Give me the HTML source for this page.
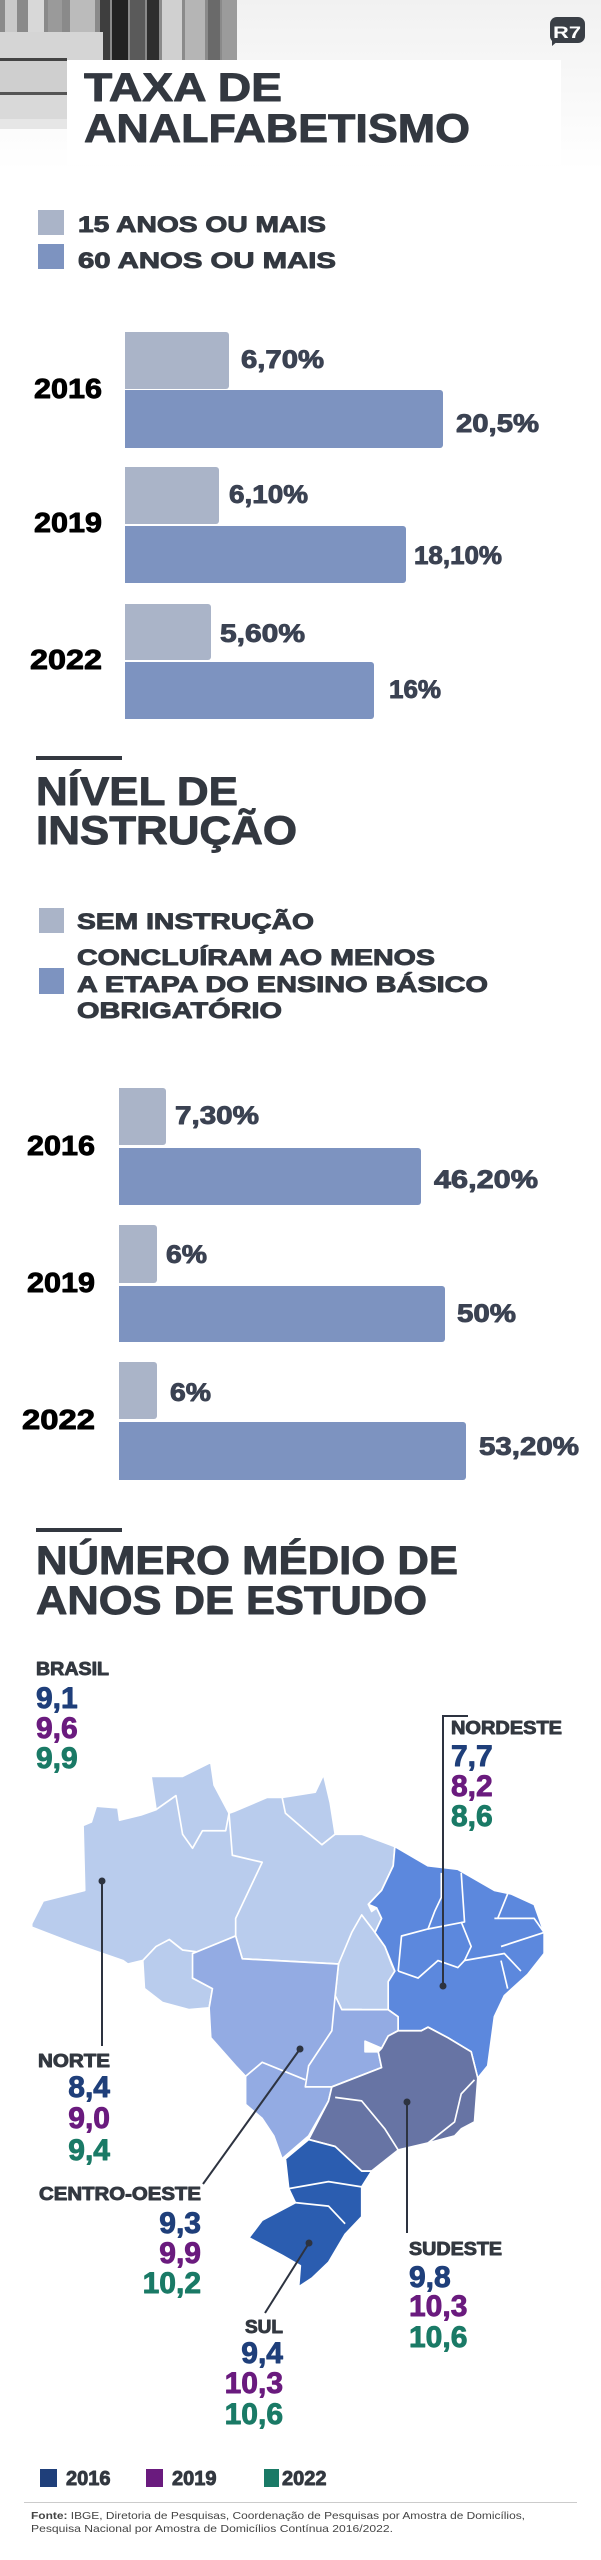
<!DOCTYPE html>
<html><head><meta charset="utf-8">
<style>
html,body{margin:0;padding:0;background:#fff;}
svg{display:block;}
text{font-family:"Liberation Sans",Arial,sans-serif;font-weight:bold;}
.hv text{stroke-width:0.9;stroke-linejoin:round;}
</style></head>
<body>
<svg width="601" height="2560" viewBox="0 0 601 2560" xmlns="http://www.w3.org/2000/svg">
<defs>
<linearGradient id="bg" x1="0" y1="0" x2="0" y2="1">
<stop offset="0" stop-color="#f1f1f1"/><stop offset="1" stop-color="#ffffff"/>
</linearGradient>
</defs>
<rect x="0" y="0" width="601" height="2560" fill="#fff"/>
<rect x="0" y="0" width="601" height="170" fill="url(#bg)"/>
<g>
<rect x="0" y="0" width="237" height="60" fill="#8a8a8a"/>
<rect x="5" y="0" width="12" height="35" fill="#c9c9c9"/>
<rect x="28" y="0" width="16" height="35" fill="#d8d8d8"/>
<rect x="48" y="0" width="14" height="35" fill="#9a9a9a"/>
<rect x="70" y="0" width="25" height="35" fill="#bbb"/>
<rect x="100" y="0" width="10" height="60" fill="#3e3e3e"/>
<rect x="112" y="0" width="16" height="60" fill="#222"/>
<rect x="130" y="0" width="15" height="60" fill="#5a5a5a"/>
<rect x="147" y="0" width="12" height="60" fill="#2e2e2e"/>
<rect x="162" y="0" width="20" height="60" fill="#d0d0d0"/>
<rect x="185" y="0" width="20" height="60" fill="#b5b5b5"/>
<rect x="208" y="0" width="12" height="60" fill="#6a6a6a"/>
<rect x="222" y="0" width="15" height="60" fill="#9b9b9b"/>
<rect x="0" y="32" width="103" height="28" fill="#d5d5d5"/>
<rect x="0" y="58" width="67" height="3" fill="#444"/>
<rect x="0" y="61" width="67" height="32" fill="#cfcfcf"/>
<rect x="0" y="92" width="67" height="3" fill="#555"/>
<rect x="0" y="95" width="67" height="24" fill="#d9d9d9"/>
<rect x="0" y="119" width="67" height="10" fill="#e6e6e6"/>
</g>
<rect x="67" y="60" width="494" height="105" fill="#fff"/>
<rect x="550" y="17" width="35" height="26" rx="7" fill="#3a3f46"/>
<polygon points="552,38 552,46 559,40" fill="#3a3f46"/>
<text x="553" y="38" font-size="17" fill="#fff" textLength="28" lengthAdjust="spacingAndGlyphs">R7</text>

<g fill="#333840" stroke="#333840" class="hv">
<text x="84" y="101" font-size="40" textLength="198" lengthAdjust="spacingAndGlyphs">TAXA DE</text>
<text x="84" y="142" font-size="40" textLength="386" lengthAdjust="spacingAndGlyphs">ANALFABETISMO</text>
</g>

<rect x="38" y="210" width="26" height="25" fill="#aab4c8"/>
<rect x="38" y="244" width="26" height="25" fill="#7d93c0"/>
<g fill="#333840" stroke="#333840" font-size="22" class="hv">
<text x="78" y="232" textLength="248" lengthAdjust="spacingAndGlyphs">15 ANOS OU MAIS</text>
<text x="78" y="268" textLength="258" lengthAdjust="spacingAndGlyphs">60 ANOS OU MAIS</text>
</g>

<g>
<rect x="115" y="332" width="114" height="57" rx="3" fill="#aab4c8"/>
<rect x="115" y="390" width="328" height="58" rx="3" fill="#7d93c0"/>
<rect x="115" y="467" width="104" height="57" rx="3" fill="#aab4c8"/>
<rect x="115" y="526" width="291" height="57" rx="3" fill="#7d93c0"/>
<rect x="115" y="604" width="96" height="56" rx="3" fill="#aab4c8"/>
<rect x="115" y="662" width="259" height="57" rx="3" fill="#7d93c0"/>
<rect x="115" y="330" width="10" height="392" fill="#fff"/>
</g>
<g fill="#000" stroke="#000" font-size="28" class="hv">
<text x="34" y="398" textLength="68" lengthAdjust="spacingAndGlyphs">2016</text>
<text x="34" y="532" textLength="68" lengthAdjust="spacingAndGlyphs">2019</text>
<text x="30" y="669" textLength="72" lengthAdjust="spacingAndGlyphs">2022</text>
</g>
<g fill="#3b4252" stroke="#3b4252" font-size="25" class="hv">
<text x="241" y="368" textLength="83" lengthAdjust="spacingAndGlyphs">6,70%</text>
<text x="456" y="432" textLength="83" lengthAdjust="spacingAndGlyphs">20,5%</text>
<text x="229" y="503" textLength="79" lengthAdjust="spacingAndGlyphs">6,10%</text>
<text x="414" y="564" textLength="88" lengthAdjust="spacingAndGlyphs">18,10%</text>
<text x="220" y="642" textLength="85" lengthAdjust="spacingAndGlyphs">5,60%</text>
<text x="389" y="698" textLength="52" lengthAdjust="spacingAndGlyphs">16%</text>
</g>

<rect x="36" y="756" width="86" height="4" fill="#333840"/>
<g fill="#333840" stroke="#333840" class="hv">
<text x="36" y="805" font-size="40" textLength="202" lengthAdjust="spacingAndGlyphs">NÍVEL DE</text>
<text x="36" y="844" font-size="40" textLength="261" lengthAdjust="spacingAndGlyphs">INSTRUÇÃO</text>
</g>
<rect x="39" y="908" width="25" height="25" fill="#aab4c8"/>
<rect x="39" y="968" width="25" height="26" fill="#7d93c0"/>
<g fill="#333840" stroke="#333840" font-size="22" class="hv">
<text x="77" y="929" textLength="237" lengthAdjust="spacingAndGlyphs">SEM INSTRUÇÃO</text>
<text x="77" y="965" textLength="358" lengthAdjust="spacingAndGlyphs">CONCLUÍRAM AO MENOS</text>
<text x="77" y="992" textLength="411" lengthAdjust="spacingAndGlyphs">A ETAPA DO ENSINO BÁSICO</text>
<text x="77" y="1018" textLength="205" lengthAdjust="spacingAndGlyphs">OBRIGATÓRIO</text>
</g>
<g>
<rect x="110" y="1088" width="56" height="57" rx="3" fill="#aab4c8"/>
<rect x="110" y="1148" width="311" height="57" rx="3" fill="#7d93c0"/>
<rect x="110" y="1225" width="47" height="58" rx="3" fill="#aab4c8"/>
<rect x="110" y="1286" width="335" height="56" rx="3" fill="#7d93c0"/>
<rect x="110" y="1362" width="47" height="57" rx="3" fill="#aab4c8"/>
<rect x="110" y="1422" width="356" height="58" rx="3" fill="#7d93c0"/>
<rect x="110" y="1086" width="9" height="396" fill="#fff"/>
</g>
<g fill="#000" stroke="#000" font-size="28" class="hv">
<text x="27" y="1155" textLength="68" lengthAdjust="spacingAndGlyphs">2016</text>
<text x="27" y="1292" textLength="68" lengthAdjust="spacingAndGlyphs">2019</text>
<text x="22" y="1429" textLength="73" lengthAdjust="spacingAndGlyphs">2022</text>
</g>
<g fill="#3b4252" stroke="#3b4252" font-size="25" class="hv">
<text x="175" y="1124" textLength="84" lengthAdjust="spacingAndGlyphs">7,30%</text>
<text x="434" y="1188" textLength="104" lengthAdjust="spacingAndGlyphs">46,20%</text>
<text x="166" y="1263" textLength="41" lengthAdjust="spacingAndGlyphs">6%</text>
<text x="457" y="1322" textLength="59" lengthAdjust="spacingAndGlyphs">50%</text>
<text x="170" y="1401" textLength="41" lengthAdjust="spacingAndGlyphs">6%</text>
<text x="479" y="1455" textLength="100" lengthAdjust="spacingAndGlyphs">53,20%</text>
</g>

<rect x="36" y="1528" width="86" height="4" fill="#333840"/>
<g fill="#333840" stroke="#333840" class="hv">
<text x="36" y="1574" font-size="40" textLength="422" lengthAdjust="spacingAndGlyphs">NÚMERO MÉDIO DE</text>
<text x="36" y="1614" font-size="40" textLength="391" lengthAdjust="spacingAndGlyphs">ANOS DE ESTUDO</text>
</g>

<g transform="translate(30,1750) scale(0.3317,0.3509)" stroke="#fff" stroke-width="5" stroke-linejoin="round">
<polygon fill="#b9cced" points="5,495 40,430 165,400 160,215 185,205 200,160 265,165 270,200 335,185 380,170 365,75 460,75 545,35 555,100 600,180 615,175 715,135 760,135 860,120 885,70 905,150 920,240 1000,240 1100,275 1095,330 1060,400 1020,440 1030,460 1045,450 1060,480 1040,520 1070,560 1090,610 1100,630 1080,660 1080,740 1040,750 1000,740 940,740 920,700 930,610 640,595 620,530 500,580 490,650 550,680 540,735 480,740 400,720 345,680 340,600 295,610 280,600 5,510"/>
<polygon fill="#93abe3" points="490,580 620,530 640,595 930,610 920,700 940,740 1000,740 1080,740 1110,760 1110,800 1080,815 1060,850 1010,830 1010,860 1050,860 1060,905 910,960 900,1000 840,1100 760,1165 735,1100 700,1050 650,1010 650,930 620,900 545,820 540,735 550,680 490,650"/>
<polygon fill="#5c88dd" points="1100,275 1200,330 1290,340 1400,400 1450,410 1520,440 1550,520 1550,580 1500,640 1430,700 1400,760 1380,900 1350,935 1330,860 1260,820 1200,790 1180,800 1110,800 1110,760 1080,740 1080,660 1100,630 1070,560 1040,520 1060,480 1045,450 1020,440 1060,400 1095,330"/>
<polygon fill="#6774a4" points="1110,800 1180,800 1200,790 1260,820 1330,860 1350,935 1340,1060 1300,1080 1280,1100 1200,1120 1110,1140 1030,1200 1000,1200 920,1130 840,1110 900,1000 910,960 1060,905 1050,860 1060,850 1080,815"/>
<polygon fill="#2b5db0" points="840,1110 920,1130 1000,1200 1030,1200 1000,1245 1000,1330 950,1380 900,1460 850,1505 810,1530 815,1470 760,1440 660,1390 700,1340 800,1290 780,1250 770,1165"/>
<g fill="none">
<polyline points="5,505 280,605"/>
<polyline points="340,600 380,560 420,540 460,570 500,575"/>
<polyline points="600,180 610,300 700,320 620,480 620,530"/>
<polyline points="380,170 440,130 460,240 490,280 520,230 590,230 600,180"/>
<polyline points="760,135 770,180 880,270 920,240"/>
<polyline points="930,610 970,520 1000,470 1040,520"/>
<polyline points="1110,630 1120,530 1200,510 1220,460 1240,420 1240,350"/>
<polyline points="1200,510 1310,490 1300,350"/>
<polyline points="1300,490 1330,560 1310,600 1430,580 1480,630"/>
<polyline points="1310,600 1290,620 1230,600 1170,650 1110,630"/>
<polyline points="1410,480 1440,410"/>
<polyline points="1400,480 1520,480 1550,520 1420,560"/>
<polyline points="1420,600 1440,680"/>
<polyline points="920,700 910,800 840,900 830,960 910,960"/>
<polyline points="650,930 700,890 830,940"/>
<polyline points="1110,1140 1070,1080 1000,1000 920,990"/>
<polyline points="1340,940 1300,980 1280,1060 1200,1120"/>
<polyline points="780,1250 900,1230 1000,1245"/>
<polyline points="800,1290 900,1300 950,1350"/>
</g>
</g>

<g stroke="#2d3340" stroke-width="2" fill="none">
<line x1="102" y1="1881" x2="102" y2="2046"/>
<polyline points="468,1716 443,1716 443,1986"/>
<line x1="203" y1="2184" x2="300" y2="2049"/>
<line x1="407" y1="2102" x2="407" y2="2233"/>
<line x1="265" y1="2313" x2="309" y2="2243"/>
</g>
<g fill="#2d3340">
<circle cx="102" cy="1881" r="3.5"/>
<circle cx="443" cy="1986" r="3.5"/>
<circle cx="300" cy="2049" r="3.5"/>
<circle cx="407" cy="2102" r="3.5"/>
<circle cx="309" cy="2243" r="3.5"/>
</g>

<g font-size="18" fill="#333840" stroke="#333840" class="hv">
<text x="36" y="1675" textLength="73" lengthAdjust="spacingAndGlyphs">BRASIL</text>
<text x="451" y="1734" textLength="111" lengthAdjust="spacingAndGlyphs">NORDESTE</text>
<text x="38" y="2067" textLength="72" lengthAdjust="spacingAndGlyphs">NORTE</text>
<text x="39" y="2200" textLength="162" lengthAdjust="spacingAndGlyphs">CENTRO-OESTE</text>
<text x="409" y="2255" textLength="93" lengthAdjust="spacingAndGlyphs">SUDESTE</text>
<text x="245" y="2333" textLength="38" lengthAdjust="spacingAndGlyphs">SUL</text>
</g>
<g font-size="30" class="hv">
<text x="36" y="1708" fill="#1f3f7a" stroke="#1f3f7a">9,1</text>
<text x="36" y="1738" fill="#6a1b7e" stroke="#6a1b7e">9,6</text>
<text x="36" y="1768" fill="#1a7a66" stroke="#1a7a66">9,9</text>
<text x="451" y="1766" fill="#1f3f7a" stroke="#1f3f7a">7,7</text>
<text x="451" y="1796" fill="#6a1b7e" stroke="#6a1b7e">8,2</text>
<text x="451" y="1826" fill="#1a7a66" stroke="#1a7a66">8,6</text>
<text x="110" y="2097" fill="#1f3f7a" stroke="#1f3f7a" text-anchor="end">8,4</text>
<text x="110" y="2128" fill="#6a1b7e" stroke="#6a1b7e" text-anchor="end">9,0</text>
<text x="110" y="2160" fill="#1a7a66" stroke="#1a7a66" text-anchor="end">9,4</text>
<text x="201" y="2233" fill="#1f3f7a" stroke="#1f3f7a" text-anchor="end">9,3</text>
<text x="201" y="2263" fill="#6a1b7e" stroke="#6a1b7e" text-anchor="end">9,9</text>
<text x="201" y="2293" fill="#1a7a66" stroke="#1a7a66" text-anchor="end">10,2</text>
<text x="409" y="2287" fill="#1f3f7a" stroke="#1f3f7a">9,8</text>
<text x="409" y="2316" fill="#6a1b7e" stroke="#6a1b7e">10,3</text>
<text x="409" y="2347" fill="#1a7a66" stroke="#1a7a66">10,6</text>
<text x="283" y="2363" fill="#1f3f7a" stroke="#1f3f7a" text-anchor="end">9,4</text>
<text x="283" y="2393" fill="#6a1b7e" stroke="#6a1b7e" text-anchor="end">10,3</text>
<text x="283" y="2424" fill="#1a7a66" stroke="#1a7a66" text-anchor="end">10,6</text>
</g>

<rect x="40" y="2469" width="17" height="18" fill="#1f3f7a"/>
<rect x="146" y="2469" width="17" height="18" fill="#6a1b7e"/>
<rect x="264" y="2469" width="15" height="18" fill="#1a7a66"/>
<g font-size="20" fill="#333840" stroke="#333840" class="hv">
<text x="66" y="2485">2016</text>
<text x="172" y="2485">2019</text>
<text x="282" y="2485">2022</text>
</g>
<rect x="24" y="2502" width="553" height="1" fill="#cccccc"/>
<g font-size="10.5" fill="#444">
<text x="31" y="2519" textLength="494" lengthAdjust="spacingAndGlyphs"><tspan style="font-weight:bold">Fonte:</tspan><tspan style="font-weight:normal"> IBGE, Diretoria de Pesquisas, Coordenação de Pesquisas por Amostra de Domicílios,</tspan></text>
<text x="31" y="2532" style="font-weight:normal" textLength="362" lengthAdjust="spacingAndGlyphs">Pesquisa Nacional por Amostra de Domicílios Contínua 2016/2022.</text>
</g>
</svg>
</body></html>
